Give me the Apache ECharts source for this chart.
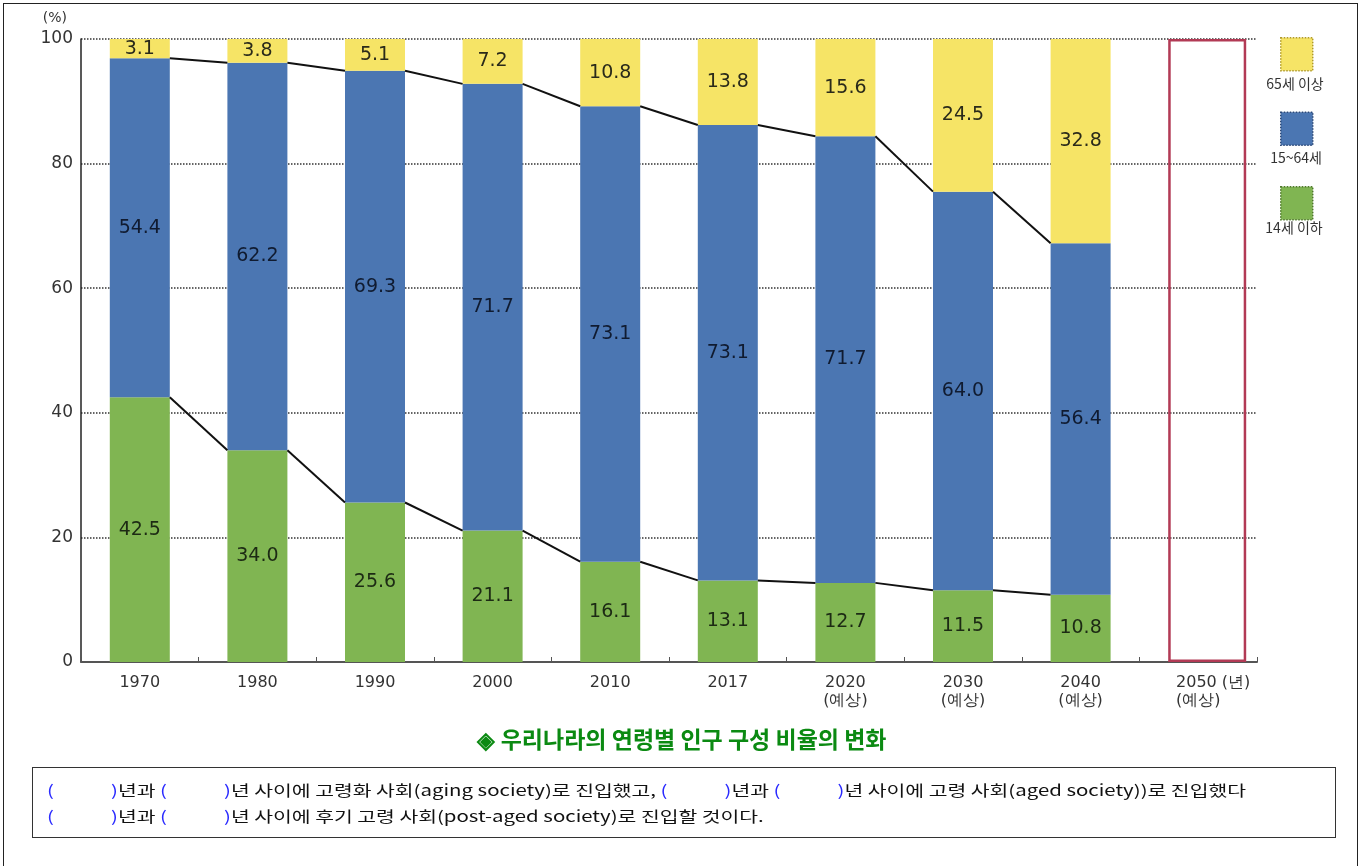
<!DOCTYPE html>
<html>
<head>
<meta charset="utf-8">
<title>우리나라의 연령별 인구 구성 비율의 변화</title>
<script src="https://cdn.jsdelivr.net/npm/echarts@6/dist/echarts.min.js"></script>
<style>
    body { margin: 0; background: #fff; }
    #main { position: absolute; left: 0; top: 0; width: 1364px; height: 866px; }
    #frame { position: absolute; left: 3px; top: 3px; width: 1353px; height: 880px; border: 1px solid #222; border-bottom: none; pointer-events: none; }
    #note {
        position: absolute; left: 32px; top: 767px; width: 1304px; height: 71px;
        border: 1px solid #333; box-sizing: border-box; padding: 9px 0 0 14px;
        font-family: 'Noto Sans CJK KR', sans-serif; font-size: 15px; line-height: 26px; color: #111;
    }
    #note div { white-space: nowrap; transform: scaleX(1.36); transform-origin: left center; }
    .b { color: #2a2aff; }
    .g { display: inline-block; width: 42px; }
</style>
</head>
<body>
<div id="main"></div>
<div id="frame"></div>
<div id="note">
    <div><span class="b">(</span><span class="g"></span><span class="b">)</span>년과 <span class="b">(</span><span class="g"></span><span class="b">)</span>년 사이에 고령화 사회(aging society)로 진입했고, <span class="b">(</span><span class="g"></span><span class="b">)</span>년과 <span class="b">(</span><span class="g"></span><span class="b">)</span>년 사이에 고령 사회(aged society))로 진입했다</div>
    <div><span class="b">(</span><span class="g"></span><span class="b">)</span>년과 <span class="b">(</span><span class="g"></span><span class="b">)</span>년 사이에 후기 고령 사회(post-aged society)로 진입할 것이다.</div>
</div>
<script>
// 연도 (2050년은 빈 칸)
var years = ['1970', '1980', '1990', '2000', '2010', '2017', '2020', '2030', '2040', '2050'];
var yearLabels = ['1970', '1980', '1990', '2000', '2010', '2017', '2020\n(예상)', '2030\n(예상)', '2040\n(예상)', '{w|2050 (년)}\n(예상)'];

// 연령별 비율 (%)
var under14 = [42.5, 34.0, 25.6, 21.1, 16.1, 13.1, 12.7, 11.5, 10.8, null];
var age15to64 = [54.4, 62.2, 69.3, 71.7, 73.1, 73.1, 71.7, 64.0, 56.4, null];
var over65 = [3.1, 3.8, 5.1, 7.2, 10.8, 13.8, 15.6, 24.5, 32.8, null];
var blank2050 = [null, null, null, null, null, null, null, null, null, 100];

var legendNames = ['65세 이상', '15~64세', '14세 이하'];

var BAR_W = 60;
var numFont = 'DejaVu Sans';

// 14세 이하 윗선, 15~64세 윗선 (막대 가장자리끼리 잇는 선)
var lineData = [];
for (var i = 0; i < 9; i++) {
    lineData.push([i, under14[i], under14[i] + age15to64[i]]);
}

var myChart = echarts.init(document.getElementById('main'));

function valueLabel(color) {
    return {
        show: true,
        position: 'inside',
        color: color,
        fontFamily: numFont,
        fontSize: 19,
        formatter: function (p) { return p.value == null ? '' : p.value.toFixed(1); }
    };
}

var option = {
    animation: false,
    title: {
        text: '◈ 우리나라의 연령별 인구 구성 비율의 변화',
        left: 'center',
        top: 723,
        textStyle: {
            color: '#0b8a12',
            fontFamily: 'Noto Sans CJK KR',
            fontWeight: 'bold',
            fontSize: 23
        }
    },
    legend: {
        orient: 'vertical',
        left: 1280,
        top: 37,
        padding: 0,
        itemWidth: 32,
        itemHeight: 33,
        itemGap: 40,
        icon: 'rect',
        formatter: function () { return ''; },
        data: [
            {name: legendNames[0], itemStyle: {borderColor: '#b09a2a', borderWidth: 1.5, borderType: 'dotted'}},
            {name: legendNames[1], itemStyle: {borderColor: '#2c4a7a', borderWidth: 1.5, borderType: 'dotted'}},
            {name: legendNames[2], itemStyle: {borderColor: '#4f7a2c', borderWidth: 1.5, borderType: 'dotted'}}
        ]
    },
    graphic: [
        {type: 'text', style: {text: legendNames[0], x: 1295, y: 84, textAlign: 'center', textVerticalAlign: 'middle', font: '14px "Noto Sans CJK KR"', fill: '#333'}},
        {type: 'text', style: {text: legendNames[1], x: 1296, y: 158, textAlign: 'center', textVerticalAlign: 'middle', font: '14px "Noto Sans CJK KR"', fill: '#333'}},
        {type: 'text', style: {text: legendNames[2], x: 1294, y: 228, textAlign: 'center', textVerticalAlign: 'middle', font: '14px "Noto Sans CJK KR"', fill: '#333'}}
    ],
    grid: {
        left: 81,
        right: 107,
        top: 39,
        bottom: 204
    },
    xAxis: {
        type: 'category',
        data: years,
        axisLine: {lineStyle: {color: '#555', width: 2}},
        axisTick: {show: true, inside: true, length: 5, lineStyle: {color: '#555'}},
        axisLabel: {
            interval: 0,
            margin: 12,
            color: '#333',
            fontFamily: numFont,
            fontSize: 16,
            lineHeight: 18,
            formatter: function (value, idx) { return yearLabels[idx]; },
            rich: {
                w: {fontFamily: numFont, fontSize: 16, color: '#333', lineHeight: 18, padding: [0, 0, 0, 30]}
            }
        }
    },
    yAxis: {
        type: 'value',
        min: 0,
        max: 100,
        interval: 20,
        name: '(%)',
        nameLocation: 'end',
        nameGap: 14,
        nameTextStyle: {color: '#333', fontFamily: numFont, fontSize: 14, align: 'right', padding: [0, 14, 0, 0]},
        axisLine: {show: true, lineStyle: {color: '#222', width: 1.5}},
        axisTick: {show: false},
        axisLabel: {color: '#333', fontFamily: numFont, fontSize: 17, margin: 8},
        splitLine: {lineStyle: {color: '#333', type: 'dotted', width: 1.5}}
    },
    series: [
        {
            name: '2050',
            type: 'bar',
            barWidth: 78,
            barGap: '-100%',
            data: blank2050,
            itemStyle: {color: 'rgba(255,255,255,0)', borderColor: '#b23a55', borderWidth: 2.5},
            silent: true
        },
        {
            name: legendNames[2],
            type: 'bar',
            stack: 'pop',
            barWidth: BAR_W,
            barGap: '-100%',
            data: under14,
            itemStyle: {color: '#80b552'},
            label: valueLabel('#1c2a14')
        },
        {
            name: legendNames[1],
            type: 'bar',
            stack: 'pop',
            barWidth: BAR_W,
            barGap: '-100%',
            data: age15to64,
            itemStyle: {color: '#4b76b2'},
            label: valueLabel('#101b30')
        },
        {
            name: legendNames[0],
            type: 'bar',
            stack: 'pop',
            barWidth: BAR_W,
            barGap: '-100%',
            data: over65,
            itemStyle: {color: '#f6e466'},
            label: valueLabel('#2a2a1a')
        },
        {
            name: 'lines',
            type: 'custom',
            z: 5,
            silent: true,
            encode: {x: 0, y: [1, 2]},
            data: lineData,
            renderItem: function (params, api) {
                var idx = params.dataIndex;
                if (idx >= lineData.length - 1) return;
                var half = BAR_W / 2;
                var children = [];
                [1, 2].forEach(function (dim) {
                    var a = api.coord([idx, api.value(dim)]);
                    var b = api.coord([idx + 1, lineData[idx + 1][dim]]);
                    children.push({
                        type: 'line',
                        shape: {x1: a[0] + half, y1: a[1], x2: b[0] - half, y2: b[1]},
                        style: {stroke: '#111', lineWidth: 2}
                    });
                });
                return {type: 'group', children: children};
            }
        }
    ]
};

myChart.setOption(option);
</script>
</body>
</html>
